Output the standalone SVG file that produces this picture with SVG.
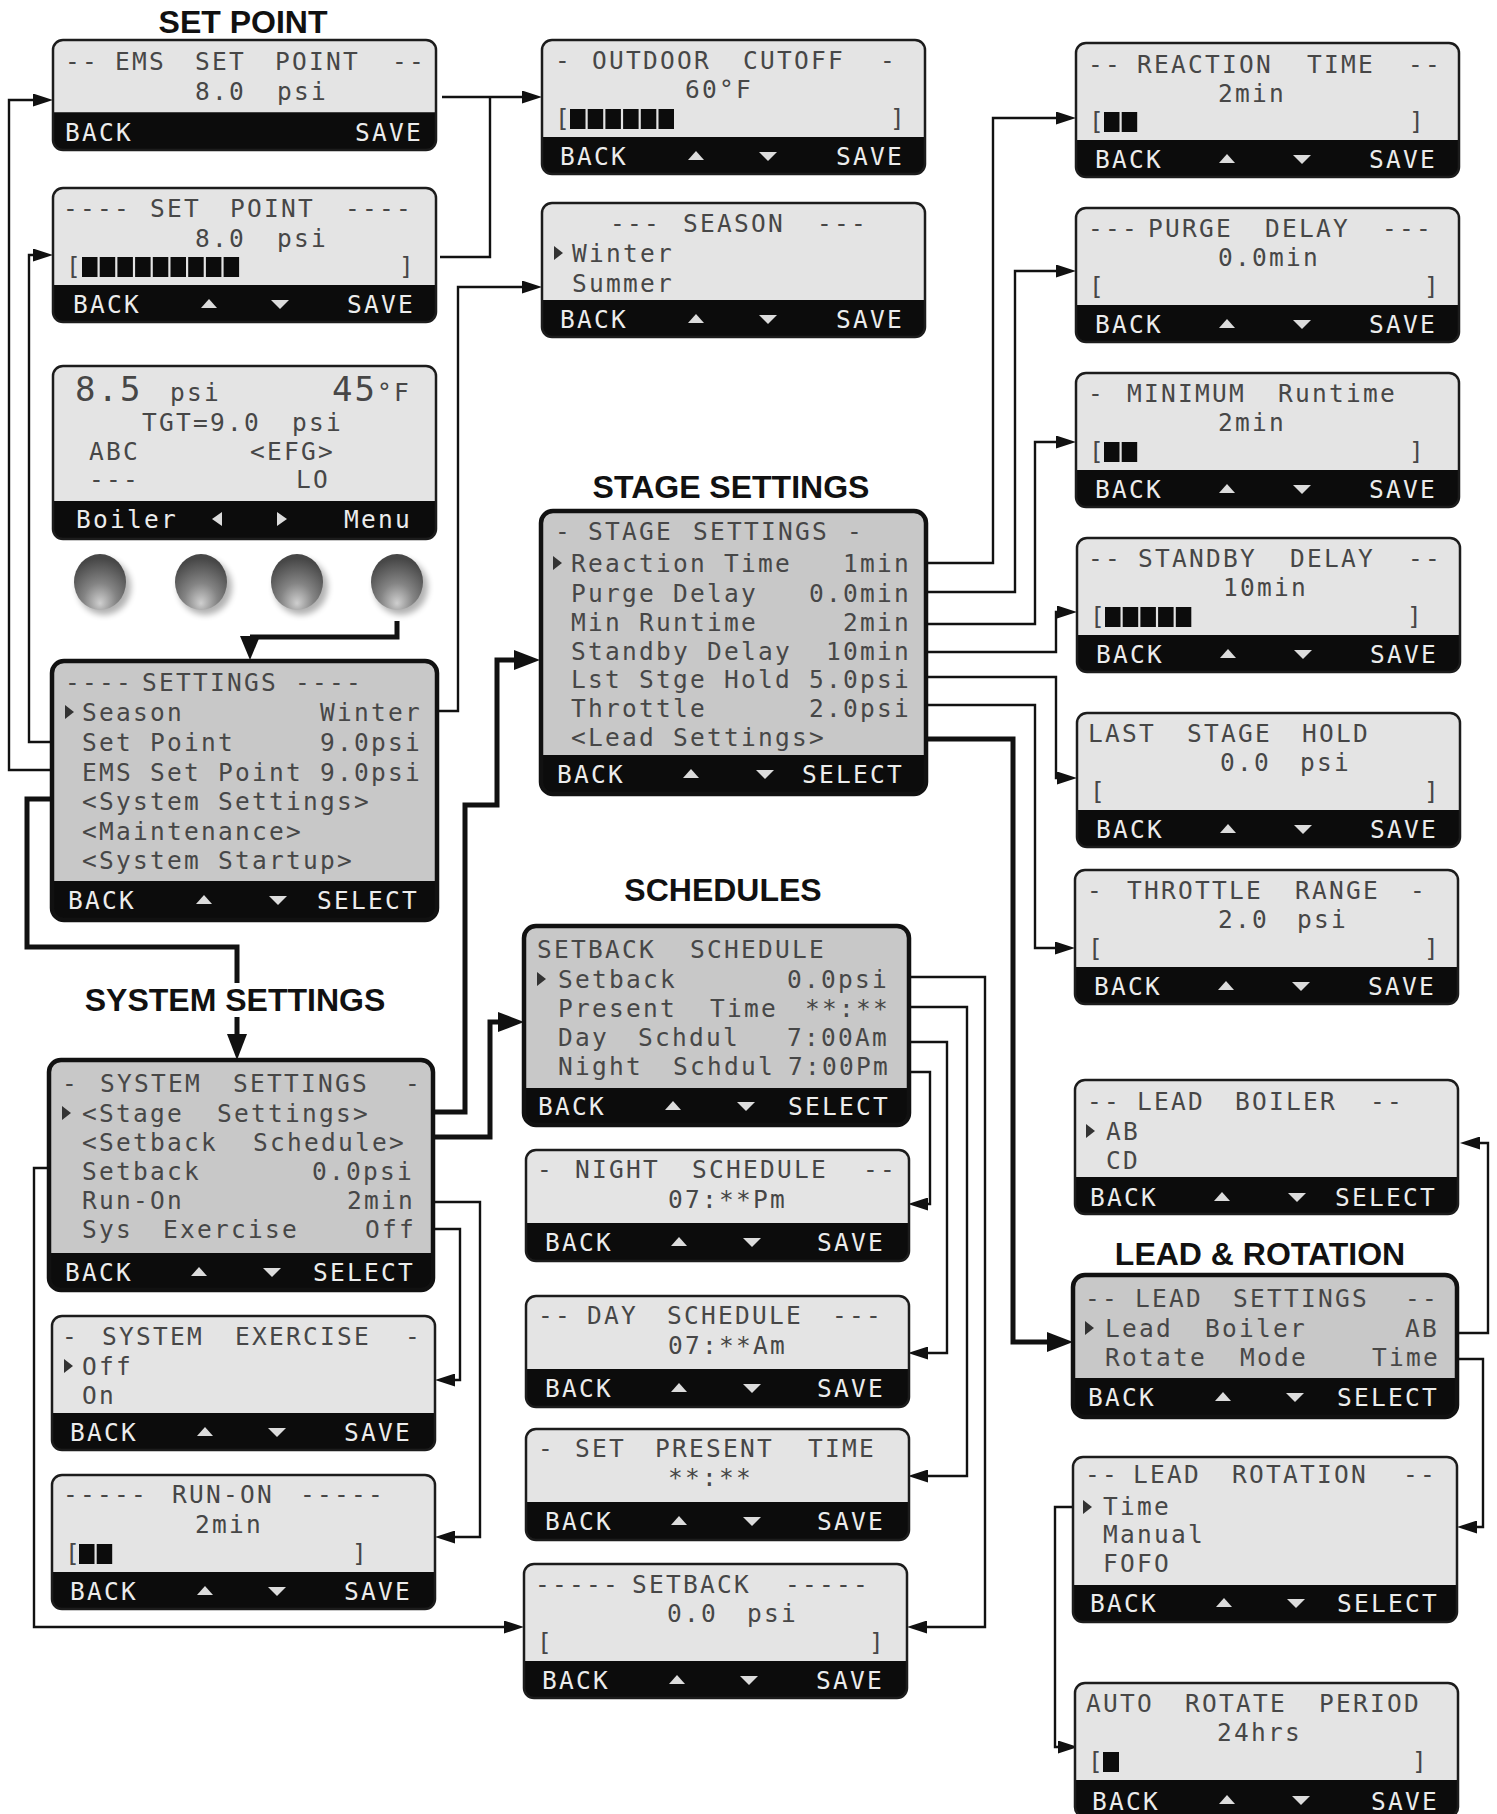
<svg xmlns="http://www.w3.org/2000/svg" xmlns:xlink="http://www.w3.org/1999/xlink" width="1497" height="1814" viewBox="0 0 1497 1814">
<style>
.t{font-family:"DejaVu Sans Mono","Liberation Mono",monospace;font-size:24.5px;letter-spacing:2.25px;fill:#474747}
.w{font-family:"DejaVu Sans Mono","Liberation Mono",monospace;font-size:24.5px;letter-spacing:2.25px;fill:#ececec}
.e{text-anchor:end}
.big{font-size:34px;letter-spacing:2px}
.k{fill:#0c0c0c}
.l{fill:#e4e4e4}
.m{fill:#c8c8c8}
.bd{fill:none;stroke:#1c1c1c;stroke-width:2.5}
.bd2{fill:none;stroke:#111;stroke-width:4.5}
.ln{fill:none;stroke:#111;stroke-width:2.4}
.tk{fill:none;stroke:#111;stroke-width:5}
.ttl{font-family:"Liberation Sans",Arial,sans-serif;font-weight:bold;font-size:32px;fill:#111;text-anchor:middle}
.blk{fill:#0c0c0c}
</style>
<defs>
<marker id="ah" viewBox="0 0 20 13" refX="0" refY="6.5" markerWidth="20" markerHeight="13" orient="auto" markerUnits="userSpaceOnUse"><path d="M0,0L20,6.5L0,13Z" fill="#111"/></marker>
<marker id="AH" viewBox="0 0 26 20" refX="0" refY="10" markerWidth="26" markerHeight="20" orient="auto" markerUnits="userSpaceOnUse"><path d="M0,0L26,10L0,20Z" fill="#111"/></marker>
<path id="up" d="M-8,4L0,-5L8,4Z" fill="#dcdcdc"/>
<path id="dn" d="M-9,-4H9L0,5Z" fill="#dcdcdc"/>
<path id="ptr" d="M0,-7L9,0L0,7Z" fill="#333"/>
<path id="lt" d="M5,-7L-5,0L5,7Z" fill="#dcdcdc"/>
<path id="rt" d="M-5,-7L5,0L-5,7Z" fill="#dcdcdc"/>
<g id="vbox">
<rect class="k" width="383" height="134" rx="10"/>
<path class="l" d="M0,97V10A10,10 0 0 1 10,0H373A10,10 0 0 1 383,10V97Z"/>
<rect class="bd" width="383" height="134" rx="10"/>
</g>
<g id="sbox">
<rect class="k" width="383" height="111" rx="10"/>
<path class="l" d="M0,73V10A10,10 0 0 1 10,0H373A10,10 0 0 1 383,10V73Z"/>
<rect class="bd" width="383" height="111" rx="10"/>
</g>
<radialGradient id="btn" cx="50%" cy="78%" r="70%" fx="50%" fy="88%">
<stop offset="0" stop-color="#cfcfcf"/>
<stop offset="0.45" stop-color="#848484"/>
<stop offset="1" stop-color="#474747"/>
</radialGradient>
<filter id="sh" x="-30%" y="-30%" width="160%" height="160%"><feGaussianBlur stdDeviation="3"/></filter>
</defs>
<rect width="1497" height="1814" fill="#fff"/>

<!-- section titles -->
<text class="ttl" x="243" y="33">SET POINT</text>
<text class="ttl" x="731" y="498">STAGE SETTINGS</text>
<text class="ttl" x="723" y="901">SCHEDULES</text>
<text class="ttl" x="235" y="1011">SYSTEM SETTINGS</text>
<text class="ttl" x="1260" y="1265">LEAD &amp; ROTATION</text>

<!-- connectors -->
<g id="connectors">
<path class="ln" d="M70,770H9V100H33" marker-end="url(#ah)"/>
<path class="ln" d="M70,742H29V255H33" marker-end="url(#ah)"/>
<path class="ln" d="M442,97H522" marker-end="url(#ah)"/>
<path class="ln" d="M440,257H490V97"/>
<path class="ln" d="M430,711H458V287H522" marker-end="url(#ah)"/>
<path class="ln" d="M927,563H993V118H1056" marker-end="url(#ah)"/>
<path class="ln" d="M917,592H1015V271H1056" marker-end="url(#ah)"/>
<path class="ln" d="M917,624H1035V442H1056" marker-end="url(#ah)"/>
<path class="ln" d="M920,652H1056V612H1057" marker-end="url(#ah)"/>
<path class="ln" d="M913,677H1056V778H1057" marker-end="url(#ah)"/>
<path class="ln" d="M918,705H1035V948H1055" marker-end="url(#ah)"/>
<path class="ln" d="M49,1168H34V1627H504" marker-end="url(#ah)"/>
<path class="ln" d="M435,1202H480V1537H455" marker-end="url(#ah)"/>
<path class="ln" d="M435,1229H460V1380H455" marker-end="url(#ah)"/>
<path class="ln" d="M903,977H985V1627H927" marker-end="url(#ah)"/>
<path class="ln" d="M903,1007H967V1476H928" marker-end="url(#ah)"/>
<path class="ln" d="M903,1042H947V1353H928" marker-end="url(#ah)"/>
<path class="ln" d="M903,1072H930V1204H928" marker-end="url(#ah)"/>
<path class="ln" d="M1458,1333H1488V1143H1480" marker-end="url(#ah)"/>
<path class="ln" d="M1445,1359H1483V1527H1477" marker-end="url(#ah)"/>
<path class="ln" d="M1093,1507H1055V1747H1058" marker-end="url(#ah)"/>
<path class="tk" d="M397,621V637H250"/>
<path d="M240,636H260L250,660Z" fill="#111"/>
<path class="tk" d="M73,799H27V947H237V983"/>
<path class="tk" d="M237,1017V1034" marker-end="url(#AH)"/>
<path class="tk" d="M417,1112H465V805H497V660H514" marker-end="url(#AH)"/>
<path class="tk" d="M417,1137H490V1022H498" marker-end="url(#AH)"/>
<path class="tk" d="M879,739H1013V1342H1047" marker-end="url(#AH)"/>
</g>

<!-- EMS SET POINT -->
<g id="ems-set-point" transform="translate(53,40)">
<use href="#sbox" transform="scale(1,0.991)"/>
<text class="t" y="30"><tspan x="12">--</tspan> <tspan x="62">EMS</tspan> <tspan x="142">SET</tspan> <tspan x="222">POINT</tspan> <tspan x="339">--</tspan></text>
<text class="t" y="60"><tspan x="142">8.0</tspan> <tspan x="224">psi</tspan></text>
<text class="w" x="12" y="101">BACK</text>
<text class="w e" x="370" y="101">SAVE</text>
</g>

<!-- SET POINT -->
<g id="set-point" transform="translate(53,188)">
<use href="#vbox"/>
<text class="t" y="29"><tspan x="10">----</tspan> <tspan x="97">SET</tspan> <tspan x="177">POINT</tspan> <tspan x="292">----</tspan></text>
<text class="t" y="59"><tspan x="142">8.0</tspan> <tspan x="224">psi</tspan></text>
<text class="t" x="13" y="87">[</text>
<rect class="blk" x="29" y="69" width="15.5" height="20"/><rect class="blk" x="46.7" y="69" width="15.5" height="20"/><rect class="blk" x="64.4" y="69" width="15.5" height="20"/><rect class="blk" x="82.1" y="69" width="15.5" height="20"/><rect class="blk" x="99.8" y="69" width="15.5" height="20"/><rect class="blk" x="117.5" y="69" width="15.5" height="20"/><rect class="blk" x="135.2" y="69" width="15.5" height="20"/><rect class="blk" x="152.9" y="69" width="15.5" height="20"/><rect class="blk" x="170.6" y="69" width="15.5" height="20"/>
<text class="t" x="346" y="87">]</text>
<text class="w" x="20" y="125">BACK</text>
<use href="#up" x="156" y="116"/><use href="#dn" x="227" y="116"/>
<text class="w e" x="362" y="125">SAVE</text>
</g>

<!-- main display -->
<g id="main-display" transform="translate(53,366)">
<rect class="k" width="383" height="173" rx="10"/>
<path class="l" d="M0,135V10A10,10 0 0 1 10,0H373A10,10 0 0 1 383,10V135Z"/>
<rect class="bd" width="383" height="173" rx="10"/>
<text class="t" y="35"><tspan class="big" x="22">8.5</tspan> <tspan x="117">psi</tspan> <tspan class="big" x="279">45</tspan><tspan>°F</tspan></text>
<text class="t" y="65"><tspan x="89">TGT=9.0</tspan> <tspan x="239">psi</tspan></text>
<text class="t" y="94"><tspan x="36">ABC</tspan> <tspan x="197">&lt;EFG&gt;</tspan></text>
<text class="t" y="122"><tspan x="36">---</tspan> <tspan x="243">LO</tspan></text>
<text class="w" x="23" y="162">Boiler</text>
<use href="#lt" x="164" y="153"/><use href="#rt" x="229" y="153"/>
<text class="w e" x="359" y="162">Menu</text>
</g>

<!-- buttons -->
<g id="buttons">
<ellipse cx="104" cy="587" rx="27" ry="28" fill="#000" opacity="0.3" filter="url(#sh)"/>
<ellipse cx="205" cy="587" rx="27" ry="28" fill="#000" opacity="0.3" filter="url(#sh)"/>
<ellipse cx="301" cy="587" rx="27" ry="28" fill="#000" opacity="0.3" filter="url(#sh)"/>
<ellipse cx="401" cy="587" rx="27" ry="28" fill="#000" opacity="0.3" filter="url(#sh)"/>
<ellipse cx="100" cy="582" rx="26" ry="28" fill="url(#btn)"/>
<ellipse cx="201" cy="582" rx="26" ry="28" fill="url(#btn)"/>
<ellipse cx="297" cy="582" rx="26" ry="28" fill="url(#btn)"/>
<ellipse cx="397" cy="582" rx="26" ry="28" fill="url(#btn)"/>
</g>

<!-- SETTINGS -->
<g id="settings" transform="translate(52,661)">
<rect class="k" width="385" height="259" rx="12"/>
<path class="m" d="M0,220V12A12,12 0 0 1 12,0H373A12,12 0 0 1 385,12V220Z"/>
<rect class="bd2" width="385" height="259" rx="12"/>
<text class="t" y="30"><tspan x="13">----</tspan> <tspan x="90">SETTINGS</tspan> <tspan x="243">----</tspan></text>
<use href="#ptr" x="13" y="51"/>
<text class="t" y="60"><tspan x="30">Season</tspan> <tspan x="268">Winter</tspan></text>
<text class="t" y="90"><tspan x="30">Set Point</tspan> <tspan x="268">9.0psi</tspan></text>
<text class="t" x="30" y="120">EMS Set Point 9.0psi</text>
<text class="t" x="30" y="149">&lt;System Settings&gt;</text>
<text class="t" x="30" y="179">&lt;Maintenance&gt;</text>
<text class="t" x="30" y="208">&lt;System Startup&gt;</text>
<text class="w" x="16" y="248">BACK</text>
<use href="#up" x="152" y="239"/><use href="#dn" x="226" y="239"/>
<text class="w e" x="367" y="248">SELECT</text>
</g>

<!-- OUTDOOR CUTOFF -->
<g id="outdoor-cutoff" transform="translate(542,40)">
<use href="#vbox"/>
<text class="t" y="29"><tspan x="13">-</tspan> <tspan x="50">OUTDOOR</tspan> <tspan x="201">CUTOFF</tspan> <tspan x="338">-</tspan></text>
<text class="t" x="143" y="58">60°F</text>
<text class="t" x="13" y="87">[</text>
<rect class="blk" x="28" y="69" width="15.5" height="20"/><rect class="blk" x="45.7" y="69" width="15.5" height="20"/><rect class="blk" x="63.4" y="69" width="15.5" height="20"/><rect class="blk" x="81.1" y="69" width="15.5" height="20"/><rect class="blk" x="98.8" y="69" width="15.5" height="20"/><rect class="blk" x="116.5" y="69" width="15.5" height="20"/>
<text class="t" x="348" y="87">]</text>
<text class="w" x="18" y="125">BACK</text>
<use href="#up" x="154" y="116"/><use href="#dn" x="226" y="116"/>
<text class="w e" x="362" y="125">SAVE</text>
</g>

<!-- SEASON -->
<g id="season" transform="translate(542,203)">
<use href="#vbox"/>
<text class="t" y="29"><tspan x="68">---</tspan> <tspan x="141">SEASON</tspan> <tspan x="275">---</tspan></text>
<use href="#ptr" x="12" y="50"/>
<text class="t" x="30" y="59">Winter</text>
<text class="t" x="30" y="89">Summer</text>
<text class="w" x="18" y="125">BACK</text>
<use href="#up" x="154" y="116"/><use href="#dn" x="226" y="116"/>
<text class="w e" x="362" y="125">SAVE</text>
</g>

<!-- STAGE SETTINGS -->
<g id="stage-settings" transform="translate(541,511)">
<rect class="k" width="385" height="283" rx="12"/>
<path class="m" d="M0,244V12A12,12 0 0 1 12,0H373A12,12 0 0 1 385,12V244Z"/>
<rect class="bd2" width="385" height="283" rx="12"/>
<text class="t" y="29"><tspan x="14">-</tspan> <tspan x="47">STAGE</tspan> <tspan x="152">SETTINGS</tspan> <tspan x="306">-</tspan></text>
<use href="#ptr" x="12" y="52"/>
<text class="t" y="61"><tspan x="30">Reaction Time</tspan> <tspan x="302">1min</tspan></text>
<text class="t" y="91"><tspan x="30">Purge Delay</tspan> <tspan x="268">0.0min</tspan></text>
<text class="t" y="120"><tspan x="30">Min Runtime</tspan> <tspan x="302">2min</tspan></text>
<text class="t" y="149"><tspan x="30">Standby Delay</tspan> <tspan x="285">10min</tspan></text>
<text class="t" x="30" y="177">Lst Stge Hold 5.0psi</text>
<text class="t" y="206"><tspan x="30">Throttle</tspan> <tspan x="268">2.0psi</tspan></text>
<text class="t" x="30" y="235">&lt;Lead Settings&gt;</text>
<text class="w" x="16" y="272">BACK</text>
<use href="#up" x="150" y="263"/><use href="#dn" x="224" y="263"/>
<text class="w e" x="363" y="272">SELECT</text>
</g>

<!-- REACTION TIME -->
<g id="reaction-time" transform="translate(1076,43)">
<use href="#vbox"/>
<text class="t" y="30"><tspan x="12">--</tspan> <tspan x="61">REACTION</tspan> <tspan x="231">TIME</tspan> <tspan x="332">--</tspan></text>
<text class="t" x="142" y="59">2min</text>
<text class="t" x="13" y="87">[</text>
<rect class="blk" x="28" y="69" width="15.5" height="20"/><rect class="blk" x="45.7" y="69" width="15.5" height="20"/>
<text class="t" x="333" y="87">]</text>
<text class="w" x="19" y="125">BACK</text>
<use href="#up" x="151" y="116"/><use href="#dn" x="226" y="116"/>
<text class="w e" x="361" y="125">SAVE</text>
</g>

<!-- PURGE DELAY -->
<g id="purge-delay" transform="translate(1076,208)">
<use href="#vbox"/>
<text class="t" y="29"><tspan x="12">---</tspan> <tspan x="72">PURGE</tspan> <tspan x="189">DELAY</tspan> <tspan x="306">---</tspan></text>
<text class="t" x="142" y="58">0.0min</text>
<text class="t" x="13" y="87">[</text>
<text class="t" x="348" y="87">]</text>
<text class="w" x="19" y="125">BACK</text>
<use href="#up" x="151" y="116"/><use href="#dn" x="226" y="116"/>
<text class="w e" x="361" y="125">SAVE</text>
</g>

<!-- MINIMUM RUNTIME -->
<g id="minimum-runtime" transform="translate(1076,373)">
<use href="#vbox"/>
<text class="t" y="29"><tspan x="12">-</tspan> <tspan x="51">MINIMUM</tspan> <tspan x="202">Runtime</tspan></text>
<text class="t" x="142" y="58">2min</text>
<text class="t" x="13" y="87">[</text>
<rect class="blk" x="28" y="69" width="15.5" height="20"/><rect class="blk" x="45.7" y="69" width="15.5" height="20"/>
<text class="t" x="333" y="87">]</text>
<text class="w" x="19" y="125">BACK</text>
<use href="#up" x="151" y="116"/><use href="#dn" x="226" y="116"/>
<text class="w e" x="361" y="125">SAVE</text>
</g>

<!-- STANDBY DELAY -->
<g id="standby-delay" transform="translate(1077,538)">
<use href="#vbox"/>
<text class="t" y="29"><tspan x="11">--</tspan> <tspan x="61">STANDBY</tspan> <tspan x="213">DELAY</tspan> <tspan x="331">--</tspan></text>
<text class="t" x="146" y="58">10min</text>
<text class="t" x="13" y="87">[</text>
<rect class="blk" x="28" y="69" width="15.5" height="20"/><rect class="blk" x="45.7" y="69" width="15.5" height="20"/><rect class="blk" x="63.4" y="69" width="15.5" height="20"/><rect class="blk" x="81.1" y="69" width="15.5" height="20"/><rect class="blk" x="98.8" y="69" width="15.5" height="20"/>
<text class="t" x="330" y="87">]</text>
<text class="w" x="19" y="125">BACK</text>
<use href="#up" x="151" y="116"/><use href="#dn" x="226" y="116"/>
<text class="w e" x="361" y="125">SAVE</text>
</g>

<!-- LAST STAGE HOLD -->
<g id="last-stage-hold" transform="translate(1077,713)">
<use href="#vbox"/>
<text class="t" y="29"><tspan x="11">LAST</tspan> <tspan x="110">STAGE</tspan> <tspan x="225">HOLD</tspan></text>
<text class="t" y="58"><tspan x="143">0.0</tspan> <tspan x="223">psi</tspan></text>
<text class="t" x="13" y="87">[</text>
<text class="t" x="347" y="87">]</text>
<text class="w" x="19" y="125">BACK</text>
<use href="#up" x="151" y="116"/><use href="#dn" x="226" y="116"/>
<text class="w e" x="361" y="125">SAVE</text>
</g>

<!-- THROTTLE RANGE -->
<g id="throttle-range" transform="translate(1075,870)">
<use href="#vbox"/>
<text class="t" y="29"><tspan x="12">-</tspan> <tspan x="52">THROTTLE</tspan> <tspan x="220">RANGE</tspan> <tspan x="335">-</tspan></text>
<text class="t" y="58"><tspan x="143">2.0</tspan> <tspan x="222">psi</tspan></text>
<text class="t" x="13" y="87">[</text>
<text class="t" x="349" y="87">]</text>
<text class="w" x="19" y="125">BACK</text>
<use href="#up" x="151" y="116"/><use href="#dn" x="226" y="116"/>
<text class="w e" x="361" y="125">SAVE</text>
</g>

<!-- SYSTEM SETTINGS -->
<g id="system-settings" transform="translate(49,1060)">
<rect class="k" width="384" height="230" rx="12"/>
<path class="m" d="M0,193V12A12,12 0 0 1 12,0H372A12,12 0 0 1 384,12V193Z"/>
<rect class="bd2" width="384" height="230" rx="12"/>
<text class="t" y="32"><tspan x="13">-</tspan> <tspan x="51">SYSTEM</tspan> <tspan x="184">SETTINGS</tspan> <tspan x="356">-</tspan></text>
<use href="#ptr" x="13" y="53"/>
<text class="t" y="62"><tspan x="33">&lt;Stage</tspan> <tspan x="168">Settings&gt;</tspan></text>
<text class="t" y="91"><tspan x="33">&lt;Setback</tspan> <tspan x="204">Schedule&gt;</tspan></text>
<text class="t" y="120"><tspan x="33">Setback</tspan> <tspan x="263">0.0psi</tspan></text>
<text class="t" y="149"><tspan x="33">Run-On</tspan> <tspan x="298">2min</tspan></text>
<text class="t" y="178"><tspan x="33">Sys</tspan> <tspan x="114">Exercise</tspan> <tspan x="316">Off</tspan></text>
<text class="w" x="16" y="221">BACK</text>
<use href="#up" x="150" y="212"/><use href="#dn" x="223" y="212"/>
<text class="w e" x="366" y="221">SELECT</text>
</g>

<!-- SYSTEM EXERCISE -->
<g id="system-exercise" transform="translate(52,1316)">
<use href="#vbox"/>
<text class="t" y="29"><tspan x="10">-</tspan> <tspan x="50">SYSTEM</tspan> <tspan x="183">EXERCISE</tspan> <tspan x="353">-</tspan></text>
<use href="#ptr" x="12" y="50"/>
<text class="t" x="30" y="59">Off</text>
<text class="t" x="30" y="88">On</text>
<text class="w" x="18" y="125">BACK</text>
<use href="#up" x="153" y="116"/><use href="#dn" x="225" y="116"/>
<text class="w e" x="360" y="125">SAVE</text>
</g>

<!-- RUN-ON -->
<g id="run-on" transform="translate(52,1475)">
<use href="#vbox"/>
<text class="t" y="28"><tspan x="11">-----</tspan> <tspan x="120">RUN-ON</tspan> <tspan x="248">-----</tspan></text>
<text class="t" x="143" y="58">2min</text>
<text class="t" x="13" y="87">[</text>
<rect class="blk" x="27" y="69" width="15.5" height="20"/><rect class="blk" x="44.7" y="69" width="15.5" height="20"/>
<text class="t" x="300" y="87">]</text>
<text class="w" x="18" y="125">BACK</text>
<use href="#up" x="153" y="116"/><use href="#dn" x="225" y="116"/>
<text class="w e" x="360" y="125">SAVE</text>
</g>

<!-- SETBACK SCHEDULE -->
<g id="setback-schedule" transform="translate(524,926)">
<rect class="k" width="385" height="199" rx="12"/>
<path class="m" d="M0,162V12A12,12 0 0 1 12,0H373A12,12 0 0 1 385,12V162Z"/>
<rect class="bd2" width="385" height="199" rx="12"/>
<text class="t" y="32"><tspan x="13">SETBACK</tspan> <tspan x="166">SCHEDULE</tspan></text>
<use href="#ptr" x="13" y="53"/>
<text class="t" y="62"><tspan x="34">Setback</tspan> <tspan x="263">0.0psi</tspan></text>
<text class="t" y="91"><tspan x="34">Present</tspan> <tspan x="186">Time</tspan> <tspan x="281">**:**</tspan></text>
<text class="t" y="120"><tspan x="34">Day</tspan> <tspan x="114">Schdul</tspan> <tspan x="263">7:00Am</tspan></text>
<text class="t" y="149"><tspan x="34">Night</tspan> <tspan x="149">Schdul</tspan><tspan x="264">7:00Pm</tspan></text>
<text class="w" x="14" y="189">BACK</text>
<use href="#up" x="149" y="180"/><use href="#dn" x="222" y="180"/>
<text class="w e" x="366" y="189">SELECT</text>
</g>

<!-- NIGHT SCHEDULE -->
<g id="night-schedule" transform="translate(526,1150)">
<use href="#sbox"/>
<text class="t" y="28"><tspan x="11">-</tspan> <tspan x="49">NIGHT</tspan> <tspan x="166">SCHEDULE</tspan> <tspan x="337">--</tspan></text>
<text class="t" x="142" y="58">07:**Pm</text>
<text class="w" x="19" y="101">BACK</text>
<use href="#up" x="153" y="92"/><use href="#dn" x="226" y="92"/>
<text class="w e" x="359" y="101">SAVE</text>
</g>

<!-- DAY SCHEDULE -->
<g id="day-schedule" transform="translate(526,1296)">
<use href="#sbox"/>
<text class="t" y="28"><tspan x="12">--</tspan> <tspan x="61">DAY</tspan> <tspan x="141">SCHEDULE</tspan> <tspan x="306">---</tspan></text>
<text class="t" x="142" y="58">07:**Am</text>
<text class="w" x="19" y="101">BACK</text>
<use href="#up" x="153" y="92"/><use href="#dn" x="226" y="92"/>
<text class="w e" x="359" y="101">SAVE</text>
</g>

<!-- SET PRESENT TIME -->
<g id="set-present-time" transform="translate(526,1429)">
<use href="#sbox"/>
<text class="t" y="28"><tspan x="12">-</tspan> <tspan x="49">SET</tspan> <tspan x="129">PRESENT</tspan> <tspan x="282">TIME</tspan></text>
<text class="t" x="142" y="57">**:**</text>
<text class="w" x="19" y="101">BACK</text>
<use href="#up" x="153" y="92"/><use href="#dn" x="226" y="92"/>
<text class="w e" x="359" y="101">SAVE</text>
</g>

<!-- SETBACK -->
<g id="setback" transform="translate(524,1564)">
<use href="#vbox"/>
<text class="t" y="29"><tspan x="11">-----</tspan> <tspan x="108">SETBACK</tspan> <tspan x="261">-----</tspan></text>
<text class="t" y="58"><tspan x="143">0.0</tspan> <tspan x="223">psi</tspan></text>
<text class="t" x="13" y="87">[</text>
<text class="t" x="345" y="87">]</text>
<text class="w" x="18" y="125">BACK</text>
<use href="#up" x="153" y="116"/><use href="#dn" x="225" y="116"/>
<text class="w e" x="360" y="125">SAVE</text>
</g>

<!-- LEAD BOILER -->
<g id="lead-boiler" transform="translate(1075,1080)">
<use href="#vbox"/>
<text class="t" y="30"><tspan x="12">--</tspan> <tspan x="62">LEAD</tspan> <tspan x="160">BOILER</tspan> <tspan x="295">--</tspan></text>
<use href="#ptr" x="11" y="51"/>
<text class="t" x="31" y="60">AB</text>
<text class="t" x="31" y="89">CD</text>
<text class="w" x="15" y="126">BACK</text>
<use href="#up" x="147" y="117"/><use href="#dn" x="222" y="117"/>
<text class="w e" x="362" y="126">SELECT</text>
</g>

<!-- LEAD SETTINGS -->
<g id="lead-settings" transform="translate(1073,1275)">
<rect class="k" width="384" height="142" rx="12"/>
<path class="m" d="M0,103V12A12,12 0 0 1 12,0H372A12,12 0 0 1 384,12V103Z"/>
<rect class="bd2" width="384" height="142" rx="12"/>
<text class="t" y="32"><tspan x="12">--</tspan> <tspan x="62">LEAD</tspan> <tspan x="160">SETTINGS</tspan> <tspan x="332">--</tspan></text>
<use href="#ptr" x="12" y="53"/>
<text class="t" y="62"><tspan x="32">Lead</tspan> <tspan x="132">Boiler</tspan> <tspan x="332">AB</tspan></text>
<text class="t" y="91"><tspan x="32">Rotate</tspan> <tspan x="167">Mode</tspan> <tspan x="299">Time</tspan></text>
<text class="w" x="15" y="131">BACK</text>
<use href="#up" x="150" y="122"/><use href="#dn" x="222" y="122"/>
<text class="w e" x="366" y="131">SELECT</text>
</g>

<!-- LEAD ROTATION -->
<g id="lead-rotation" transform="translate(1073,1457)">
<rect class="k" width="384" height="165" rx="10"/>
<path class="l" d="M0,128V10A10,10 0 0 1 10,0H374A10,10 0 0 1 384,10V128Z"/>
<rect class="bd" width="384" height="165" rx="10"/>
<text class="t" y="26"><tspan x="12">--</tspan> <tspan x="60">LEAD</tspan> <tspan x="159">ROTATION</tspan> <tspan x="330">--</tspan></text>
<use href="#ptr" x="10" y="50"/>
<text class="t" x="30" y="58">Time</text>
<text class="t" x="30" y="86">Manual</text>
<text class="t" x="30" y="115">FOFO</text>
<text class="w" x="17" y="155">BACK</text>
<use href="#up" x="151" y="146"/><use href="#dn" x="223" y="146"/>
<text class="w e" x="366" y="155">SELECT</text>
</g>

<!-- AUTO ROTATE PERIOD -->
<g id="auto-rotate-period" transform="translate(1075,1683)">
<use href="#vbox"/>
<text class="t" y="29"><tspan x="11">AUTO</tspan> <tspan x="110">ROTATE</tspan> <tspan x="244">PERIOD</tspan></text>
<text class="t" x="142" y="58">24hrs</text>
<text class="t" x="13" y="87">[</text>
<rect class="blk" x="28" y="69" width="16" height="20"/>
<text class="t" x="337" y="87">]</text>
<text class="w" x="17" y="127">BACK</text>
<use href="#up" x="152" y="117"/><use href="#dn" x="226" y="117"/>
<text class="w e" x="364" y="127">SAVE</text>
</g>
</svg>
